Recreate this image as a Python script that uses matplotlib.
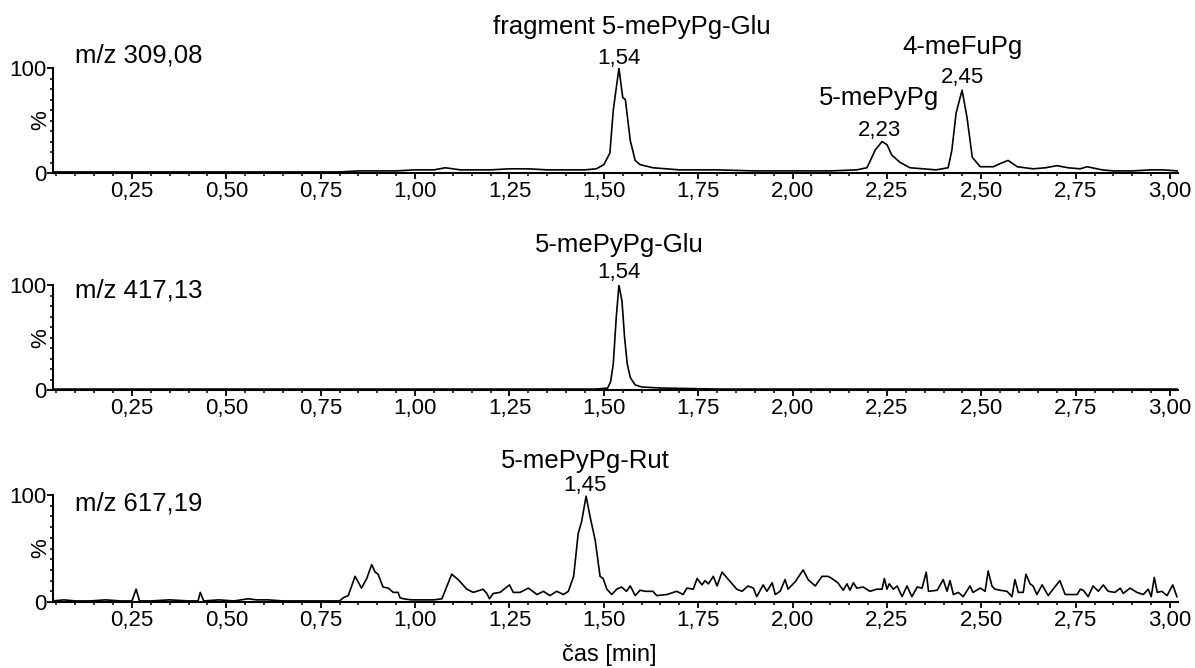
import numpy as np
import matplotlib
matplotlib.use('Agg')
import matplotlib.pyplot as plt
from matplotlib.ticker import MultipleLocator

plt.rcParams['font.family'] = ['Liberation Sans', 'DejaVu Sans']

# retention time [min] / relative intensity [%]
t_309 = [0.04, 0.10, 0.20, 0.30, 0.40, 0.50, 0.60, 0.70, 0.80, 0.85, 0.90, 0.95, 1.00,
         1.05, 1.08, 1.12, 1.20, 1.25, 1.30, 1.35, 1.40, 1.45, 1.48, 1.50, 1.516, 1.525,
         1.540, 1.550, 1.557, 1.570, 1.583, 1.596, 1.63, 1.70, 1.80, 1.90, 2.00, 2.10,
         2.17, 2.197, 2.219, 2.237, 2.250, 2.263, 2.285, 2.311, 2.346, 2.38, 2.412, 2.422,
         2.433, 2.449, 2.462, 2.476, 2.497, 2.532, 2.55, 2.571, 2.595, 2.637, 2.67, 2.70,
         2.73, 2.762, 2.78, 2.82, 2.85, 2.90, 2.95, 2.98, 3.02]
i_309 = [1, 1, 1, 1, 1, 1, 1, 1, 1, 2, 2, 2, 3,
         3, 5, 3, 3, 4, 4, 3, 3, 3, 4, 8, 19, 60,
         100, 72, 70, 31, 12, 8, 5, 3, 3, 2, 2, 2,
         3, 5, 22, 30, 27, 17, 10, 5, 4, 3, 5, 22,
         57, 79, 53, 15, 6, 6, 9, 12, 6, 4, 5, 7,
         5, 4, 6, 3, 2, 2, 3, 3, 2]

t_417 = [0.04, 0.20, 0.40, 0.60, 0.80, 1.00, 1.20, 1.40, 1.48, 1.51, 1.518, 1.525,
         1.533, 1.540, 1.548, 1.555, 1.562, 1.570, 1.583, 1.60, 1.65, 1.80, 2.00,
         2.20, 2.40, 2.60, 2.80, 3.02]
i_417 = [1, 1, 1, 1, 1, 1, 1, 1, 1, 2, 8, 25,
         70, 100, 85, 50, 25, 12, 5, 3, 2, 1, 1,
         1, 1, 1, 1, 1]

t_617 = [0.04, 0.07, 0.10, 0.14, 0.18, 0.22, 0.25, 0.261, 0.27, 0.30, 0.35, 0.40,
         0.425, 0.431, 0.44, 0.48, 0.52, 0.558, 0.58, 0.61, 0.65, 0.70, 0.75, 0.80,
         0.81, 0.823, 0.841, 0.858, 0.872, 0.885, 0.894, 0.902, 0.915, 0.929, 0.942,
         0.955, 0.960, 0.969, 0.99, 1.02, 1.05, 1.071, 1.097, 1.114, 1.137, 1.154,
         1.172, 1.18, 1.19, 1.197, 1.207, 1.225, 1.25, 1.26, 1.278, 1.30, 1.323, 1.34,
         1.357, 1.375, 1.393, 1.406, 1.42, 1.432, 1.441, 1.453, 1.464, 1.477, 1.49,
         1.498, 1.508, 1.521, 1.534, 1.547, 1.56, 1.57, 1.583, 1.596, 1.61, 1.63, 1.64,
         1.667, 1.693, 1.71, 1.72, 1.737, 1.747, 1.76, 1.768, 1.777, 1.79, 1.80, 1.813,
         1.83, 1.852, 1.866, 1.882, 1.896, 1.905, 1.922, 1.932, 1.946, 1.954, 1.967,
         1.98, 1.988, 2.007, 2.028, 2.041, 2.06, 2.078, 2.094, 2.104, 2.12, 2.134,
         2.144, 2.152, 2.161, 2.17, 2.187, 2.205, 2.223, 2.237, 2.243, 2.25, 2.256,
         2.267, 2.277, 2.29, 2.303, 2.316, 2.33, 2.343, 2.354, 2.36, 2.383, 2.399,
         2.409, 2.417, 2.426, 2.439, 2.452, 2.47, 2.478, 2.497, 2.51, 2.518, 2.528,
         2.536, 2.55, 2.568, 2.581, 2.589, 2.598, 2.611, 2.618, 2.629, 2.637, 2.647,
         2.661, 2.677, 2.69, 2.708, 2.722, 2.754, 2.762, 2.77, 2.783, 2.796, 2.81,
         2.823, 2.836, 2.854, 2.868, 2.876, 2.894, 2.912, 2.929, 2.942, 2.95, 2.958,
         2.966, 2.978, 2.992, 3.007, 3.018]
i_617 = [1, 2, 1, 1, 2, 1, 1, 12, 1, 1, 2, 1,
         1, 9, 1, 2, 1, 3, 2, 2, 1, 1, 1, 1,
         4, 6, 24, 13, 22, 35, 28, 26, 14, 13, 9,
         9, 4, 3, 2, 2, 2, 3, 26, 21, 12, 9,
         11, 12, 8, 3, 8, 9, 16, 9, 9, 13, 7, 10,
         6, 10, 7, 10, 24, 64, 75, 99, 79, 58, 24,
         22, 12, 7, 12, 14, 10, 15, 6, 11, 10, 10, 6,
         7, 10, 7, 13, 12, 22, 16, 20, 17, 24, 15, 28,
         21, 12, 10, 15, 13, 5, 16, 10, 18, 7, 10,
         21, 12, 19, 30, 21, 15, 24, 24, 22, 18, 11,
         17, 11, 18, 13, 14, 10, 12, 12, 22, 12, 17,
         12, 15, 5, 15, 5, 14, 13, 28, 10, 11, 21,
         10, 20, 7, 9, 5, 15, 9, 13, 10, 29, 15,
         12, 11, 10, 5, 21, 9, 9, 26, 17, 15, 7,
         16, 6, 12, 20, 7, 7, 12, 11, 5, 15, 10,
         16, 10, 9, 13, 8, 13, 9, 7, 12, 5, 23,
         9, 10, 6, 16, 5]

traces = [(t_309, i_309), (t_417, i_417), (t_617, i_617)]
mz_labels = ['m/z 309,08', 'm/z 417,13', 'm/z 617,19']

# peak annotations per panel: (time, label, name above the label)
peaks = [
    [(1.54, '1,54', 'fragment 5-mePyPg-Glu'), (2.23, '2,23', '5-mePyPg'), (2.45, '2,45', '4-meFuPg')],
    [(1.54, '1,54', '5-mePyPg-Glu')],
    [(1.45, '1,45', '5-mePyPg-Rut')],
]

xtick_vals = [0.25, 0.50, 0.75, 1.00, 1.25, 1.50, 1.75, 2.00, 2.25, 2.50, 2.75, 3.00]
xtick_labels = ['0,25', '0,50', '0,75', '1,00', '1,25', '1,50', '1,75', '2,00',
                '2,25', '2,50', '2,75', '3,00']

fig = plt.figure(figsize=(11.95, 6.68), dpi=100)

# axes boxes in figure fractions [left, bottom, width, height]
boxes = [[0.0444, 0.741, 0.9414, 0.157],
         [0.0444, 0.416, 0.9414, 0.157],
         [0.0444, 0.0988, 0.9414, 0.160]]
# label offsets (in % units) for each panel: m/z label, number, name
mz_y = [112, 95, 92.5]
num_y = [[109.5, 41, 91], [112], [109]]
name_y = [[139, 72, 120], [138], [132]]

axes = []
for k, box in enumerate(boxes):
    ax = fig.add_axes(box)
    t, inten = traces[k]
    ax.plot(t, inten, color='black', lw=1.2)
    ax.set_xlim(0.041, 3.021)
    ax.set_ylim(0, 100)

    for side in ['top', 'right']:
        ax.spines[side].set_visible(False)
    for side in ['left', 'bottom']:
        ax.spines[side].set_linewidth(1.5)

    ax.set_xticks(xtick_vals, xtick_labels)
    ax.xaxis.set_minor_locator(MultipleLocator(0.05))
    ax.set_yticks([0, 100], ['0', '100'])
    ax.yaxis.set_minor_locator(MultipleLocator(10))
    ax.tick_params(axis='both', which='major', direction='out', length=4, width=1.3,
                   labelsize=16, pad=2)
    ax.tick_params(axis='both', which='minor', direction='out', length=2, width=1.1)
    ax.tick_params(axis='y', which='major', pad=1)
    ax.set_ylabel('%', fontsize=16)
    ax.yaxis.set_label_coords(-0.002, 0.5)

    ax.text(0.099, mz_y[k], mz_labels[k], fontsize=18.5, ha='left', va='center')
    for j, (pt, num, name) in enumerate(peaks[k]):
        ax.text(pt, num_y[k][j], num, fontsize=16, ha='center', va='center', clip_on=False)
        ax.text(pt + 0.035 if name == 'fragment 5-mePyPg-Glu' else pt, name_y[k][j], name,
                fontsize=18.5, ha='center', va='center', clip_on=False)
    axes.append(ax)

fig.text(0.510, 0.02, 'čas [min]', fontsize=17, ha='center', va='center')

fig.savefig('out.png', dpi=100)
